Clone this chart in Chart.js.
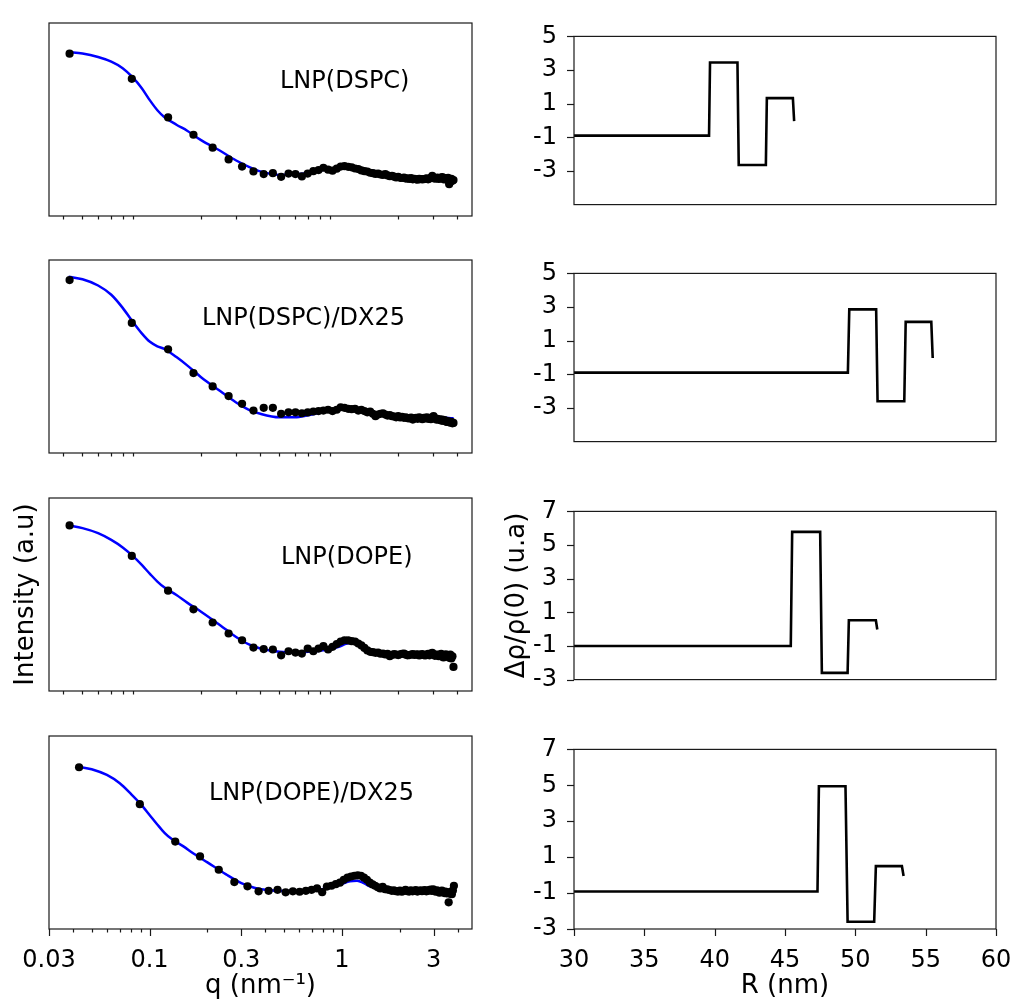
<!DOCTYPE html>
<html>
<head>
<meta charset="utf-8">
<title>LNP scattering fits and density profiles</title>
<script src="https://cdn.jsdelivr.net/npm/chart.js@4.4.1/dist/chart.umd.min.js"></script>
<style>
  html, body { margin: 0; padding: 0; background: #fff; }
  #fig { position: relative; width: 1013px; height: 1005px; overflow: hidden; background: #fff; }
  #fig canvas { position: absolute; }
</style>
</head>
<body>
<div id="fig"></div>
<script>
// ---- scattering data (q in nm^-1, intensity in arbitrary units) ----
const qData = [
  0.043, 0.089, 0.136, 0.183, 0.229, 0.276, 0.323, 0.369, 0.416, 0.463,
  0.510, 0.556, 0.603, 0.650, 0.696, 0.743, 0.790, 0.836, 0.883, 0.930,
  0.977, 1.023, 1.070, 1.117, 1.163, 1.210, 1.257, 1.303, 1.350, 1.397,
  1.444, 1.490, 1.537, 1.584, 1.630, 1.677, 1.724, 1.770, 1.817, 1.864,
  1.911, 1.957, 2.004, 2.051, 2.097, 2.144, 2.191, 2.237, 2.284, 2.331,
  2.378, 2.424, 2.471, 2.518, 2.564, 2.611, 2.658, 2.704, 2.751, 2.798,
  2.845, 2.891, 2.938, 2.985, 3.031, 3.078, 3.125, 3.171, 3.218, 3.265,
  3.312, 3.358, 3.405, 3.452, 3.498, 3.545, 3.592, 3.638, 3.685, 3.732,
  3.779, 3.825
];

const iDSPC = [
  84.1, 71.1, 51.1, 42.1, 35.4, 29.3, 25.6, 23.1, 21.7, 22.2,
  20.3, 22.0, 21.7, 20.5, 22.0, 23.2, 23.8, 25.0, 24.0, 23.5,
  24.5, 25.6, 25.8, 25.5, 25.2, 24.6, 24.3, 23.6, 23.2, 23.0,
  22.4, 22.2, 21.8, 22.0, 21.5, 21.3, 21.7, 21.0, 20.6, 20.8,
  20.4, 20.0, 20.3, 19.8, 19.7, 19.9, 19.4, 19.5, 19.2, 19.6,
  19.0, 19.3, 19.0, 18.8, 19.2, 19.1, 19.0, 19.1, 19.3, 19.5,
  19.0, 19.4, 19.8, 20.8, 19.9, 19.3, 19.6, 19.9, 19.2, 19.5,
  19.9, 20.1, 19.0, 19.4, 19.6, 18.6, 19.8, 16.5, 17.8, 19.2,
  18.2, 18.6
];

const iDSPCDX = [
  89.6, 67.4, 53.7, 41.4, 34.5, 29.5, 25.5, 22.0, 23.4, 23.4,
  20.3, 21.1, 21.1, 20.6, 21.0, 21.5, 21.7, 22.0, 22.4, 21.7,
  22.4, 23.7, 23.4, 22.9, 22.7, 22.9, 22.0, 22.4, 21.7, 21.1,
  21.5, 20.3, 19.1, 19.9, 20.3, 20.6, 19.9, 19.4, 19.6, 19.1,
  18.9, 18.5, 19.1, 18.4, 18.7, 18.2, 18.5, 18.0, 17.9, 18.4,
  17.3, 17.9, 18.2, 17.7, 18.5, 18.0, 17.5, 18.2, 17.9, 18.5,
  17.7, 18.2, 17.5, 18.5, 19.1, 18.0, 17.3, 17.7, 17.2, 17.5,
  16.8, 17.3, 16.6, 17.0, 16.3, 16.1, 16.5, 15.9, 15.8, 16.1,
  15.4, 15.6
];

const iDOPE = [
  85.8, 70.0, 52.0, 42.3, 35.5, 29.8, 26.3, 22.5, 21.7, 21.5,
  18.5, 20.6, 19.9, 19.4, 22.0, 20.6, 22.0, 23.2, 21.5, 22.9,
  24.3, 25.6, 26.3, 26.2, 25.8, 25.6, 24.6, 23.6, 22.3, 21.0,
  20.3, 20.1, 19.8, 19.9, 19.3, 19.4, 18.9, 19.3, 18.0, 18.7,
  19.1, 18.9, 18.6, 19.0, 19.3, 19.4, 18.8, 18.5, 18.6, 18.9,
  19.1, 18.7, 18.9, 19.0, 18.4, 18.8, 19.1, 18.6, 18.4, 18.9,
  19.2, 18.5, 19.4, 19.8, 19.0, 18.2, 18.7, 18.9, 18.0, 18.4,
  19.3, 17.8, 17.4, 18.6, 19.0, 18.1, 18.0, 17.2, 18.8, 16.9,
  18.0, 12.5
];

const iDOPEDX = [
  83.8, 64.7, 45.3, 37.6, 30.7, 24.3, 22.1, 19.5, 19.8, 20.3,
  19.0, 19.5, 19.3, 19.8, 20.3, 21.0, 19.1, 22.0, 22.4, 23.2,
  24.0, 25.5, 26.6, 27.2, 27.6, 27.8, 27.6, 26.6, 25.5, 24.0,
  23.1, 22.4, 21.6, 21.0, 21.9, 20.6, 20.5, 20.2, 19.8, 20.0,
  19.6, 19.4, 19.9, 19.3, 19.8, 20.3, 19.6, 19.4, 20.0, 19.5,
  19.8, 20.1, 19.4, 19.7, 20.0, 19.6, 19.9, 20.2, 19.5, 19.8,
  20.1, 20.4, 19.7, 20.5, 19.9, 19.3, 20.0, 19.5, 18.8, 19.6,
  19.9, 19.2, 18.6, 19.4, 18.5, 19.0, 13.8, 18.3, 19.2, 18.0,
  20.0, 22.4
];

// ---- model fits ----
const qFit = [
  0.0425, 0.05, 0.06, 0.07, 0.08, 0.09, 0.1, 0.11, 0.12, 0.13,
  0.15, 0.17, 0.2, 0.25, 0.3, 0.35, 0.4, 0.5, 0.6, 0.7,
  0.8, 0.9, 1.0, 1.1, 1.2, 1.3, 1.4, 1.6, 1.8, 2.0,
  2.5, 3.0, 3.5, 3.83
];
const fitDSPC = [
  84.9, 84.2, 82.4, 80.0, 76.6, 71.8, 66.2, 59.9, 54.8, 51.3,
  47.3, 44.2, 39.3, 33.8, 28.9, 25.5, 23.1, 21.3, 21.6, 22.3,
  23.5, 24.3, 25.0, 25.5, 25.3, 24.8, 24.0, 22.8, 21.6, 20.8,
  19.8, 19.3, 19.0, 18.8
];
const fitDSPCDX = [
  91.3, 90.0, 86.8, 82.0, 75.2, 68.0, 62.0, 57.6, 55.3, 54.0,
  49.7, 45.4, 39.3, 32.1, 26.3, 22.4, 20.3, 18.5, 18.5, 19.6,
  20.8, 21.7, 22.4, 22.7, 22.4, 21.7, 21.1, 20.3, 19.6, 19.1,
  18.5, 18.4, 18.2, 18.0
];
const fitDOPE = [
  85.8, 84.4, 81.8, 78.3, 74.4, 70.0, 65.3, 60.7, 56.7, 53.7,
  49.7, 45.8, 41.1, 34.1, 28.1, 24.1, 22.0, 20.3, 19.9, 20.3,
  20.8, 21.7, 22.9, 24.6, 25.1, 23.4, 21.1, 19.4, 18.9, 18.7,
  18.7, 18.7, 18.5, 18.4
];
const fitDOPEDX = [
  84.1, 82.8, 79.8, 75.5, 70.0, 64.7, 59.1, 54.0, 49.7, 46.7,
  42.8, 39.0, 34.5, 28.3, 23.8, 21.4, 20.3, 19.7, 19.7, 20.0,
  20.7, 21.7, 23.3, 24.7, 25.0, 23.8, 22.1, 20.9, 20.3, 20.2,
  20.2, 20.2, 20.2, 20.3
];

// ---- density profiles (R in nm) ----
const rDSPC     = [30, 39.6, 39.67, 41.62, 41.71, 43.64, 43.71, 45.56, 45.65];
const rhoDSPC   = [-0.9, -0.9, 3.45, 3.45, -2.65, -2.65, 1.33, 1.33, -0.04];
const rDSPCDX   = [30, 49.47, 49.57, 51.48, 51.58, 53.48, 53.58, 55.4, 55.5];
const rhoDSPCDX = [-0.9, -0.9, 2.86, 2.86, -2.6, -2.6, 2.12, 2.12, -0.03];
const rDOPE     = [30, 45.41, 45.51, 47.5, 47.62, 49.45, 49.54, 51.46, 51.56];
const rhoDOPE   = [-1.0, -1.0, 5.78, 5.78, -2.6, -2.6, 0.53, 0.53, -0.02];
const rDOPEDX   = [30, 47.31, 47.41, 49.3, 49.45, 51.34, 51.46, 53.31, 53.43];
const rhoDOPEDX = [-0.91, -0.91, 4.95, 4.95, -2.6, -2.6, 0.5, 0.5, -0.05];

const sampleNames = ['LNP(DSPC)', 'LNP(DSPC)/DX25', 'LNP(DOPE)', 'LNP(DOPE)/DX25'];

// ---- ticks / axis ranges ----
const qTickVals = [0.03, 0.1, 0.3, 1, 3];
const qTickText = ['0.03', '0.1', '0.3', '1', '3'];
const qMinorTicks = [0.04, 0.05, 0.06, 0.07, 0.08, 0.09, 0.2, 0.4, 0.5, 0.6, 0.7, 0.8, 0.9, 2, 4];
const rTickVals = [30, 35, 40, 45, 50, 55, 60];
const rhoTicksLow = [-3, -1, 1, 3, 5];
const rhoTicksHigh = [-3, -1, 1, 3, 5, 7];
const rhoRangeLow = [-5, 5];
const rhoRangeHigh = [-3, 7];

const intensities = [iDSPC, iDSPCDX, iDOPE, iDOPEDX];
const fits = [fitDSPC, fitDSPCDX, fitDOPE, fitDOPEDX];
const radii = [rDSPC, rDSPCDX, rDOPE, rDOPEDX];
const profiles = [rhoDSPC, rhoDSPCDX, rhoDOPE, rhoDOPEDX];

// ---- layout / style ----
const FONT = "'DejaVu Sans', sans-serif";
const INK = '#000';
const ROW_TOPS = [23, 260, 498, 736];
const PLOT_H = 193;
const labelOffsets = [[231, 65], [153, 64.5], [232, 65.5], [160, 63.5]];

const fig = document.getElementById('fig');

const addCanvas = (left, top, width, height) => {
  const c = document.createElement('canvas');
  c.width = width;
  c.height = height;
  c.style.left = left + 'px';
  c.style.top = top + 'px';
  c.style.width = width + 'px';
  c.style.height = height + 'px';
  fig.appendChild(c);
  return c;
};

// box frame + outward tick marks (matplotlib style)
const frameTicks = {
  id: 'frameTicks',
  afterDraw(chart, args, opts) {
    const { ctx, chartArea: a, scales } = chart;
    ctx.save();
    ctx.strokeStyle = '#1a1a1a';
    ctx.lineWidth = 1.2;
    const xTick = (vals, len) => vals.forEach(v => {
      const px = Math.round(scales.x.getPixelForValue(v)) + 0.5;
      ctx.beginPath();
      ctx.moveTo(px, a.bottom);
      ctx.lineTo(px, a.bottom + len);
      ctx.stroke();
    });
    const yTick = (vals, len) => vals.forEach(v => {
      const py = Math.round(scales.y.getPixelForValue(v)) + 0.5;
      ctx.beginPath();
      ctx.moveTo(a.left, py);
      ctx.lineTo(a.left - len, py);
      ctx.stroke();
    });
    xTick(opts.xMajor || [], 7);
    xTick(opts.xMinor || [], 3.5);
    yTick(opts.yMajor || [], 7);
    ctx.strokeRect(a.left, a.top, a.right - a.left, a.bottom - a.top);
    ctx.restore();
  }
};

const panelText = {
  id: 'panelText',
  afterDraw(chart, args, opts) {
    if (!opts.text) return;
    const { ctx, chartArea } = chart;
    ctx.save();
    ctx.font = '24px ' + FONT;
    ctx.fillStyle = INK;
    ctx.textBaseline = 'alphabetic';
    ctx.fillText(opts.text, chartArea.left + opts.dx, chartArea.top + opts.dy);
    ctx.restore();
  }
};

const intensityPanel = (row) => {
  const last = row === 3;
  const below = last ? 76 : 12;
  const canvas = addCanvas(0, ROW_TOPS[row] - 10, 490, 10 + PLOT_H + below);

  new Chart(canvas, {
    type: 'scatter',
    data: {
      datasets: [
        {
          data: qData.map((q, i) => ({ x: q, y: intensities[row][i] })),
          pointRadius: 4.1,
          pointBackgroundColor: '#000',
          pointBorderWidth: 0
        },
        {
          data: qFit.map((q, i) => ({ x: q, y: fits[row][i] })),
          showLine: true,
          pointRadius: 0,
          borderColor: '#0000ff',
          borderWidth: 2.5,
          cubicInterpolationMode: 'monotone'
        }
      ]
    },
    options: {
      responsive: false,
      animation: false,
      events: [],
      layout: { padding: { top: 10, right: 18, bottom: 0, left: 0 } },
      plugins: {
        legend: { display: false },
        tooltip: { enabled: false },
        panelText: { text: sampleNames[row], dx: labelOffsets[row][0], dy: labelOffsets[row][1] },
        frameTicks: last
          ? { xMajor: qTickVals, xMinor: qMinorTicks }
          : { xMajor: [], xMinor: qMinorTicks.concat([0.3, 3]) }
      },
      scales: {
        x: {
          type: 'logarithmic',
          min: last ? 0.03 : 0.0338,
          max: 4.75,
          grid: { display: false },
          border: { display: false },
          ticks: {
            display: last,
            autoSkip: false,
            maxRotation: 0,
            padding: 9,
            color: INK,
            font: { family: FONT, size: 24 },
            callback: (v) => {
              const k = qTickVals.indexOf(v);
              return k >= 0 ? qTickText[k] : '';
            }
          },
          afterBuildTicks: (s) => { s.ticks = qTickVals.map(v => ({ value: v })); },
          afterFit: (s) => { s.height = below; },
          title: {
            display: last,
            text: 'q (nm⁻¹)',
            color: INK,
            font: { family: FONT, size: 26 },
            padding: { top: 0, bottom: 3 }
          }
        },
        y: {
          min: 0,
          max: 100,
          grid: { display: false },
          border: { display: false },
          ticks: { display: false },
          afterFit: (s) => { s.width = 49; },
          title: {
            display: row === 2,
            text: 'Intensity (a.u)',
            color: INK,
            font: { family: FONT, size: 26 },
            padding: { top: 11, bottom: 0 }
          }
        }
      }
    },
    plugins: [frameTicks, panelText]
  });
};

const profilePanel = (row) => {
  const last = row === 3;
  const below = last ? 76 : 12;
  const yTicks = row < 2 ? rhoTicksLow : rhoTicksHigh;
  const yRange = row < 2 ? rhoRangeLow : rhoRangeHigh;
  // canvas runs past the figure edge so the "60" label padding does not squeeze the plot
  const canvas = addCanvas(500, ROW_TOPS[row] - 10, 530, 10 + PLOT_H + below);

  new Chart(canvas, {
    type: 'scatter',
    data: {
      datasets: [{
        data: radii[row].map((r, i) => ({ x: r, y: profiles[row][i] })),
        showLine: true,
        pointRadius: 0,
        borderColor: '#000',
        borderWidth: 2.6,
        tension: 0
      }]
    },
    options: {
      responsive: false,
      animation: false,
      events: [],
      layout: { padding: { top: 10, right: 34, bottom: 0, left: 0 } },
      plugins: {
        legend: { display: false },
        tooltip: { enabled: false },
        frameTicks: { xMajor: last ? rTickVals : [], xMinor: [], yMajor: yTicks }
      },
      scales: {
        x: {
          type: 'linear',
          min: 30,
          max: 60,
          grid: { display: false },
          border: { display: false },
          ticks: {
            display: last,
            autoSkip: false,
            maxRotation: 0,
            padding: 9,
            color: INK,
            font: { family: FONT, size: 24 }
          },
          afterBuildTicks: (s) => { s.ticks = rTickVals.map(v => ({ value: v })); },
          afterFit: (s) => { s.height = below; },
          title: {
            display: last,
            text: 'R (nm)',
            color: INK,
            font: { family: FONT, size: 26 },
            padding: { top: 0, bottom: 3 }
          }
        },
        y: {
          min: yRange[0],
          max: yRange[1],
          grid: { display: false },
          border: { display: false },
          ticks: {
            autoSkip: false,
            padding: 9,
            color: INK,
            font: { family: FONT, size: 24 },
            callback: (v) => String(v)
          },
          afterBuildTicks: (s) => { s.ticks = yTicks.map(v => ({ value: v })); },
          afterFit: (s) => { s.width = 74; },
          title: {
            display: row === 2,
            text: 'Δρ/ρ(0) (u.a)',
            color: INK,
            font: { family: FONT, size: 26 },
            padding: { top: 2, bottom: 0 }
          }
        }
      }
    },
    plugins: [frameTicks]
  });
};

[0, 1, 2, 3].forEach(row => {
  intensityPanel(row);
  profilePanel(row);
});
</script>
</body>
</html>
